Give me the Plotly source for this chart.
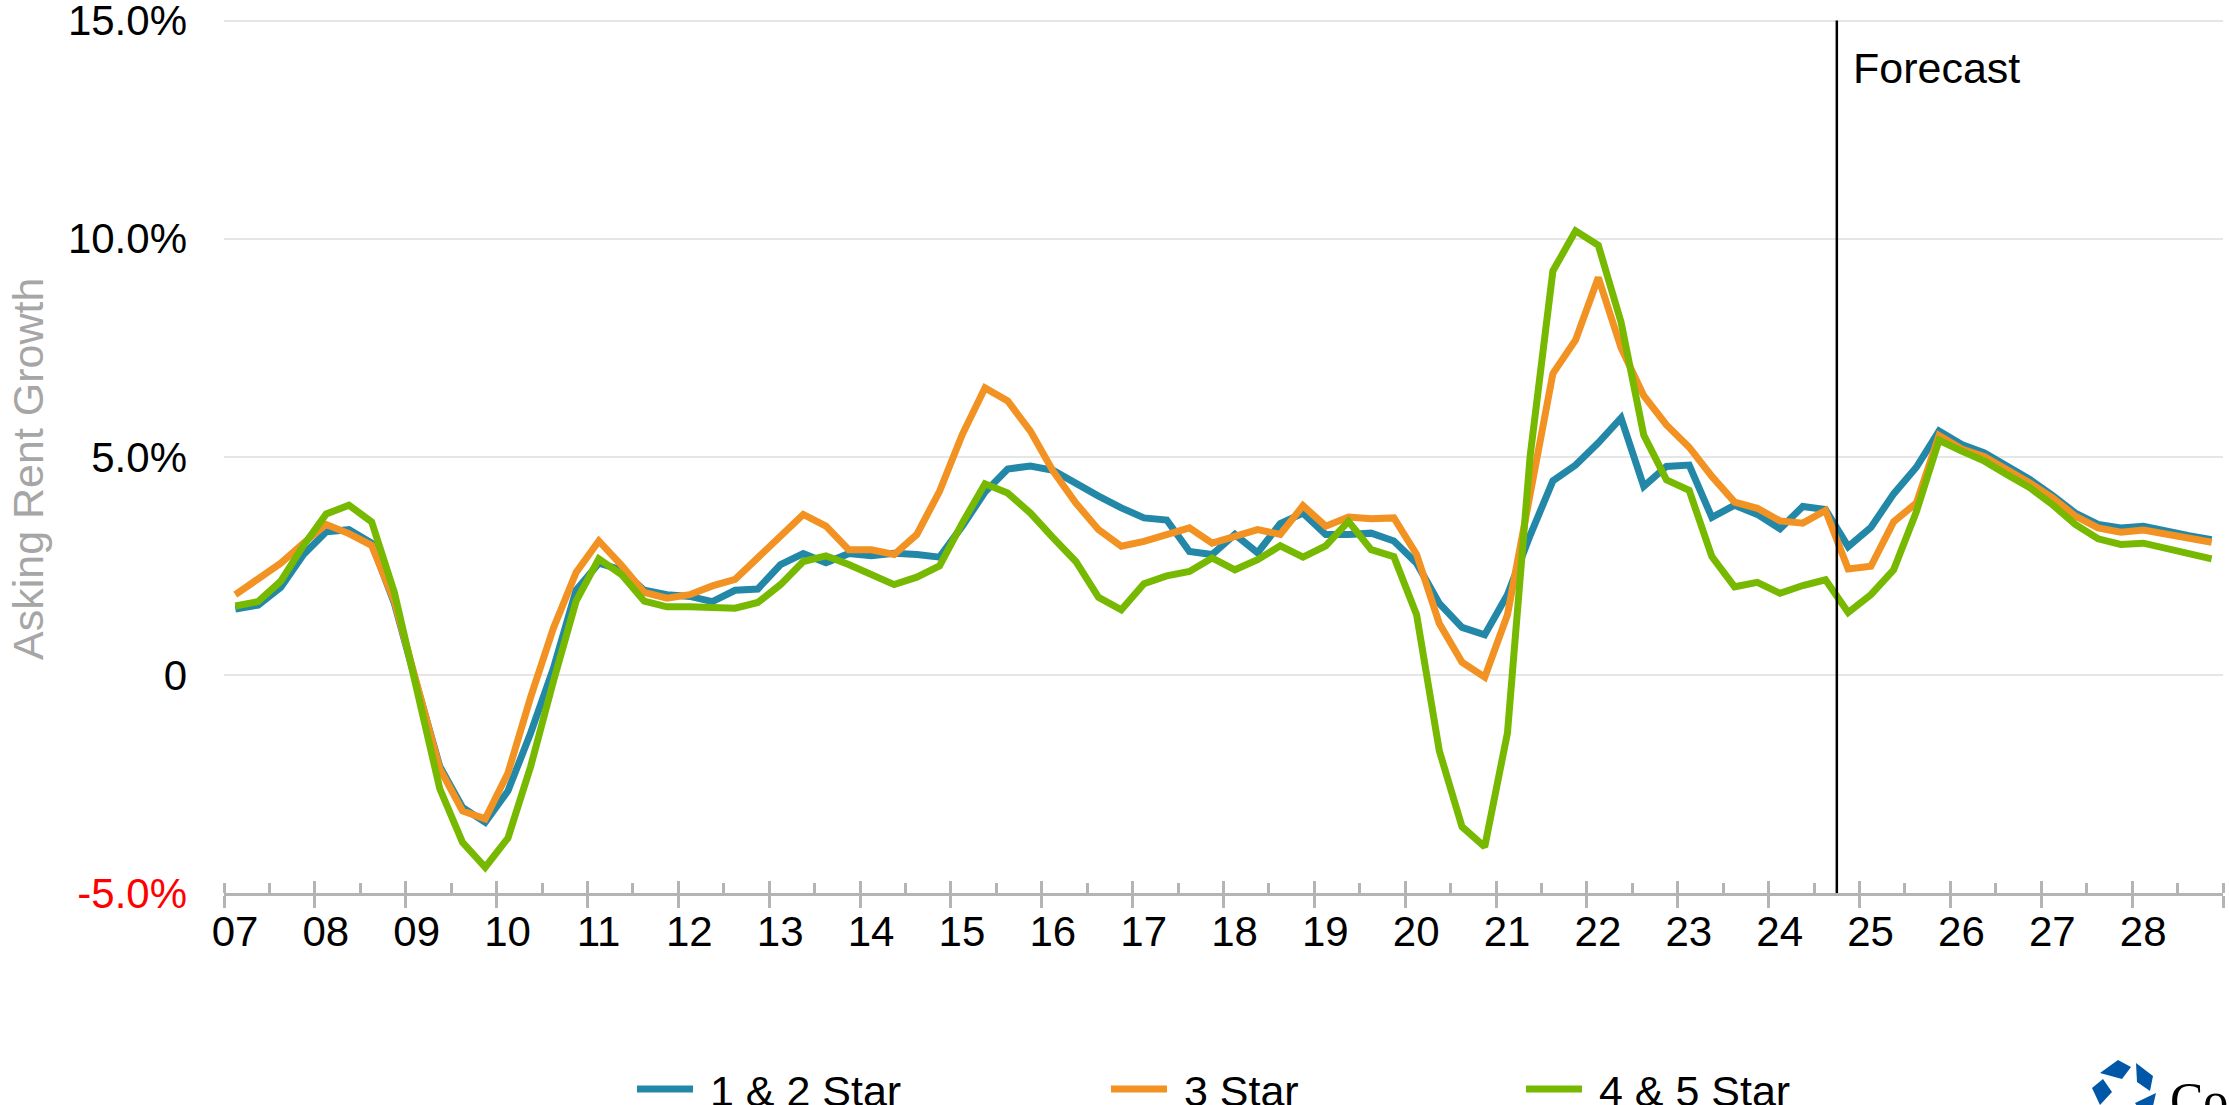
import plotly.graph_objects as go

# quarterly asking rent growth, 2007 Q1 .. 2028 Q4 (forecast from 2024 Q4)
years = list(range(2007, 2029))
year_labels = [str(y)[2:] for y in years]
quarters = [(y, q) for y in years for q in range(1, 5)]
forecast_start = (2024, 4)

star_1_2 = [1.51, 1.60, 2.01, 2.76, 3.28, 3.33, 3.02, 1.64, -0.26, -2.10, -3.04, -3.38, -2.66, -1.33, 0.15, 1.94,
            2.56, 2.41, 1.94, 1.84, 1.80, 1.68, 1.94, 1.97, 2.53, 2.78, 2.57, 2.78, 2.73, 2.79, 2.76, 2.70,
            3.41, 4.19, 4.72, 4.79, 4.69, 4.38, 4.10, 3.83, 3.60, 3.55, 2.83, 2.76, 3.22, 2.80, 3.47, 3.71,
            3.22, 3.22, 3.25, 3.07, 2.56, 1.64, 1.09, 0.92, 1.84, 3.20, 4.45, 4.81, 5.32, 5.89, 4.32, 4.78,
            4.81, 3.61, 3.89, 3.68, 3.35, 3.86, 3.79, 2.94, 3.38, 4.15, 4.76, 5.59, 5.28, 5.09, 4.79, 4.48,
            4.11, 3.71, 3.45, 3.37, 3.41, 3.29, 3.19, 3.10]
star_3 = [1.84, 2.20, 2.56, 3.02, 3.45, 3.24, 2.97, 1.69, -0.26, -2.15, -3.12, -3.30, -2.25, -0.51, 1.07, 2.35,
          3.07, 2.51, 1.89, 1.76, 1.84, 2.04, 2.19, 2.68, 3.18, 3.68, 3.41, 2.87, 2.87, 2.76, 3.22, 4.21,
          5.51, 6.58, 6.28, 5.59, 4.67, 3.94, 3.33, 2.95, 3.06, 3.22, 3.37, 3.02, 3.18, 3.33, 3.22, 3.88,
          3.41, 3.62, 3.58, 3.60, 2.76, 1.18, 0.29, -0.05, 1.38, 4.20, 6.91, 7.68, 9.11, 7.50, 6.40, 5.73,
          5.22, 4.55, 3.96, 3.82, 3.53, 3.48, 3.77, 2.43, 2.49, 3.51, 3.94, 5.49, 5.18, 5.00, 4.71, 4.40,
          4.06, 3.64, 3.37, 3.27, 3.32, 3.22, 3.12, 3.04]
star_4_5 = [1.58, 1.68, 2.15, 2.97, 3.69, 3.89, 3.51, 1.89, -0.36, -2.61, -3.84, -4.41, -3.74, -2.10, -0.15, 1.69,
            2.66, 2.30, 1.69, 1.56, 1.56, 1.55, 1.53, 1.66, 2.07, 2.60, 2.73, 2.53, 2.30, 2.07, 2.24, 2.50,
            3.48, 4.38, 4.17, 3.71, 3.14, 2.60, 1.78, 1.49, 2.09, 2.27, 2.37, 2.68, 2.41, 2.64, 2.96, 2.70,
            2.96, 3.52, 2.87, 2.71, 1.38, -1.74, -3.48, -3.94, -1.33, 5.02, 9.26, 10.18, 9.85, 8.09, 5.50, 4.47,
            4.23, 2.71, 2.02, 2.12, 1.87, 2.05, 2.18, 1.43, 1.84, 2.41, 3.74, 5.38, 5.13, 4.90, 4.59, 4.29,
            3.90, 3.45, 3.12, 2.99, 3.02, 2.89, 2.78, 2.66]

y_ticks = [-5, 0, 5, 10, 15]
y_ticktext = ['<span style="color:#FF0000">-5.0%</span>', '0', '5.0%', '10.0%', '15.0%']

series = [
    ("1 & 2 Star", star_1_2, "#2388A8", "legend"),
    ("3 Star", star_3, "#F29223", "legend2"),
    ("4 & 5 Star", star_4_5, "#76B900", "legend3"),
]

# each quarter sits in the middle of its quarter slot
xq = [y + (q - 0.5) / 4 for y, q in quarters]
x_forecast = forecast_start[0] + (forecast_start[1] - 1) / 4

W, H = 2229, 1105
ML, MR, MT, MB = 224, 6, 18, 212
PW, PH = W - ML - MR, H - MT - MB


def paper(px, py):
    # page pixel -> paper coords
    return (px - ML) / PW, (H - MB - py) / PH


FONT = "Liberation Sans, Arial, sans-serif"
GREY = "#B4B4B4"
FS = 42

fig = go.Figure()
for name, vals, color, lg in series:
    fig.add_trace(go.Scatter(
        x=xq, y=vals, mode="lines", name="\u00a0" + name, legend=lg,
        line=dict(color=color, width=7),
        hovertemplate="%{y:.1f}%<extra>" + name + "</extra>",
    ))

# forecast divider
fig.add_shape(type="line", xref="x", yref="y", x0=x_forecast, x1=x_forecast, y0=-5, y1=15,
              line=dict(color="black", width=2.5))
fig.add_annotation(x=x_forecast, y=paper(0, 68)[1], xref="x", yref="paper", text="Forecast",
                   showarrow=False, xanchor="left", yanchor="middle", xshift=14,
                   font=dict(family=FONT, size=43, color="black"))

# y title
fig.add_annotation(x=paper(28, 0)[0], y=paper(0, 469)[1], xref="paper", yref="paper",
                   text="Asking Rent Growth", textangle=-90, showarrow=False,
                   xanchor="center", yanchor="middle",
                   font=dict(family=FONT, size=43, color="#A6A6A6"))

# logo (cut off by the page edge)
logo_pieces = [
    [(2100, 1073), (2118, 1060), (2131, 1067), (2122, 1079)],
    [(2136, 1063), (2153, 1076), (2150, 1091), (2137, 1082)],
    [(2092, 1088), (2103, 1079), (2112, 1092), (2100, 1105)],
    [(2135, 1103), (2156, 1093), (2153, 1106), (2137, 1106)],
]
for pts in logo_pieces:
    pp = [paper(a, b) for a, b in pts]
    path = "M " + " L ".join(f"{a:.5f},{b:.5f}" for a, b in pp) + " Z"
    fig.add_shape(type="path", xref="paper", yref="paper", path=path,
                  fillcolor="#0057A8", line=dict(width=0))
fig.add_annotation(x=paper(2168, 0)[0], y=paper(0, 1070)[1], xref="paper", yref="paper",
                   text="CoStar", showarrow=False, xanchor="left", yanchor="top",
                   font=dict(family="Liberation Serif, serif", size=50, color="black"))

leg_y = paper(0, 1089)[1]
leg_common = dict(orientation="h", yanchor="middle", y=leg_y, xanchor="left",
                  font=dict(family=FONT, size=43, color="black"), itemwidth=56,
                  bgcolor="rgba(0,0,0,0)")

fig.update_layout(
    width=W, height=H,
    margin=dict(l=ML, r=MR, t=MT, b=MB, autoexpand=False),
    paper_bgcolor="white", plot_bgcolor="white",
    font=dict(family=FONT, size=FS, color="black"),
    showlegend=True,
    legend=dict(x=paper(632, 0)[0], **leg_common),
    legend2=dict(x=paper(1106, 0)[0], **leg_common),
    legend3=dict(x=paper(1521, 0)[0], **leg_common),
    xaxis=dict(
        range=[years[0], years[-1] + 1], tickvals=years + [years[-1] + 1],
        ticktext=year_labels + [""], ticks="outside", ticklen=12, tickwidth=3, tickcolor=GREY,
        ticklabelshift=11, ticklabelstandoff=-12, showline=True, linewidth=3, linecolor=GREY,
        showgrid=False, zeroline=False, tickfont=dict(size=FS),
        minor=dict(ticks="inside", tick0=years[0], dtick=0.5, ticklen=10, tickwidth=3,
                   tickcolor=GREY, showgrid=False),
    ),
    xaxis2=dict(
        overlaying="x", anchor="y", side="bottom", range=[years[0], years[-1] + 1],
        tickvals=years + [years[-1] + 1], ticks="inside", ticklen=12, tickwidth=3,
        tickcolor=GREY, showticklabels=False, showgrid=False, zeroline=False, showline=False,
    ),
    yaxis=dict(
        range=[-5, 15.06], tickvals=y_ticks, ticktext=y_ticktext, ticks="",
        ticklabelstandoff=36, ticklabeloverflow="allow", showgrid=True, gridcolor="#E6E6E6",
        gridwidth=1.5, zeroline=False, showline=False, tickfont=dict(size=FS),
    ),
)
# empty trace so the second x axis gets drawn
fig.add_trace(go.Scatter(x=[years[0]], y=[None], xaxis="x2", showlegend=False, hoverinfo="skip"))

fig.write_html("out.html", config={"displayModeBar": False},
               post_script="document.body.style.margin='0';document.body.style.overflow='hidden';")
